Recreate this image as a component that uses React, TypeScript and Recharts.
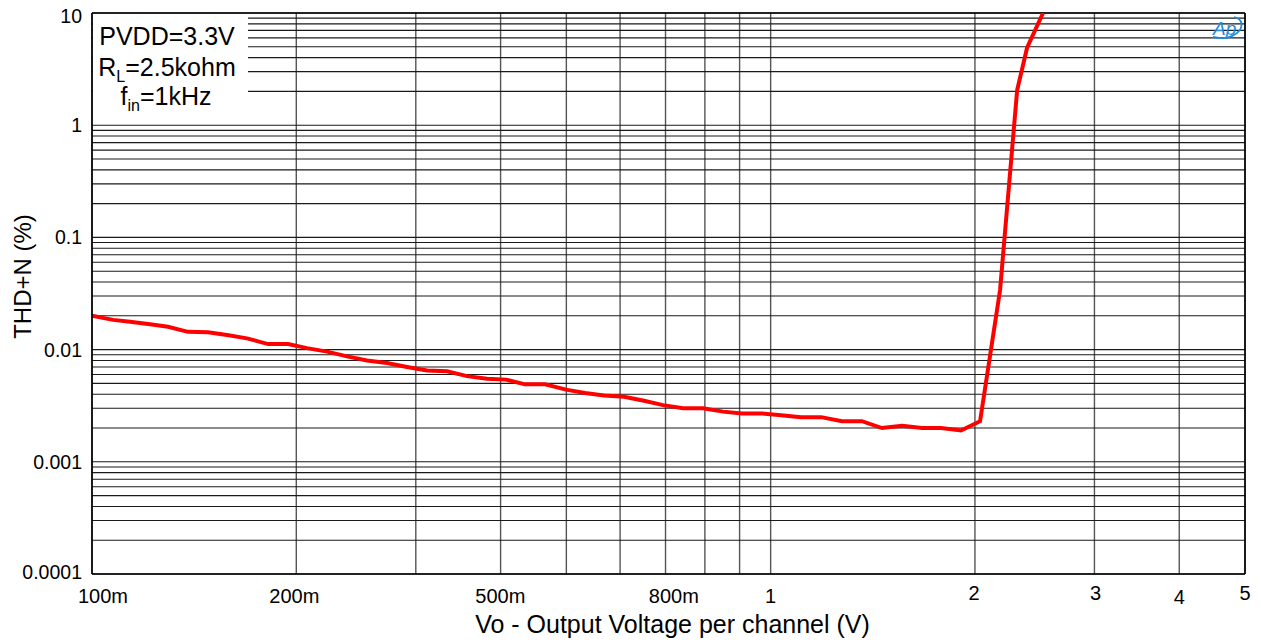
import React from 'react';
import { LineChart, Line, XAxis, YAxis, CartesianGrid, ReferenceLine } from 'recharts';

// sweep points (V, %)
const voltage = [
  0.1, 0.1074, 0.1138, 0.1218, 0.1294, 0.1385, 0.1482, 0.1581, 0.1692, 0.1817,
  0.1945, 0.2074, 0.222, 0.2376, 0.2542, 0.2721, 0.2912, 0.3117, 0.3336, 0.3569,
  0.382, 0.4074, 0.4346, 0.4652, 0.4994, 0.5328, 0.5682, 0.6081, 0.6508, 0.6941,
  0.7429, 0.795, 0.8507, 0.9075, 0.9712, 1.036, 1.109, 1.187, 1.274, 1.363,
  1.459, 1.562, 1.671, 1.783, 1.908, 2.035, 2.178, 2.308, 2.387, 2.52,
];
const thdn = [
  0.02, 0.0184, 0.0177, 0.0168, 0.016, 0.0144, 0.0143, 0.0135, 0.0126, 0.0112,
  0.0112, 0.0103, 0.0096, 0.0087, 0.008, 0.0076, 0.007, 0.0065, 0.0064, 0.0058,
  0.0055, 0.0054, 0.0049, 0.0049, 0.0044, 0.0041, 0.0039, 0.0038, 0.0035, 0.0032,
  0.003, 0.003, 0.0028, 0.0027, 0.0027, 0.0026, 0.0025, 0.0025, 0.0023, 0.0023,
  0.002, 0.0021, 0.002, 0.002, 0.0019, 0.0023, 0.034, 2.06, 4.9, 10,
];

const xGridTicks = [0.1, 0.2, 0.3, 0.4, 0.5, 0.6, 0.7, 0.8, 0.9, 1, 2, 3, 4, 5];
const xLabelValues = [0.1, 0.2, 0.5, 0.8, 1, 2, 3, 4, 5];
const xLabels = ['100m', '200m', '500m', '800m', '1', '2', '3', '4', '5'];

const yGridTicks = [
  0.0001, 0.0002, 0.0003, 0.0004, 0.0005, 0.0006, 0.0007, 0.0008, 0.0009,
  0.001, 0.002, 0.003, 0.004, 0.005, 0.006, 0.007, 0.008, 0.009,
  0.01, 0.02, 0.03, 0.04, 0.05, 0.06, 0.07, 0.08, 0.09,
  0.1, 0.2, 0.3, 0.4, 0.5, 0.6, 0.7, 0.8, 0.9,
  1, 2, 3, 4, 5, 6, 7, 8, 9, 10,
];
const yLabelValues = [0.0001, 0.001, 0.01, 0.1, 1, 10];
const yLabels = ['0.0001', '0.001', '0.01', '0.1', '1', '10'];

const data = voltage.map((v, i) => ({ v, thdn: thdn[i] }));

const FONT = '"Liberation Sans", Arial, sans-serif';

// the source plot has its x labels nudged off the gridlines; keep that look
const xLabelDx = [11, -2, -66, -31, 0, -1, 1, 0, 0];
const xLabelDy = [0, 0, 0, 0, 0, -3, -3, 1, -3];

const findIdx = (list: number[], val: number) =>
  list.findIndex((t) => Math.abs(t - val) / t < 1e-6);

const XTick = (props: any) => {
  const { x, y, payload } = props;
  const i = findIdx(xLabelValues, payload.value);
  if (i < 0) return null;
  return (
    <text x={x + xLabelDx[i]} y={y + 29 + xLabelDy[i]} textAnchor="middle"
      fontSize={20} fontFamily={FONT} fill="#000">
      {xLabels[i]}
    </text>
  );
};

const YTick = (props: any) => {
  const { x, y, payload } = props;
  const i = findIdx(yLabelValues, payload.value);
  if (i < 0) return null;
  const extra = i === yLabels.length - 1 ? 4 : i === 0 ? -1 : 1;
  return (
    <text x={x - 10} y={y + 6 + extra} textAnchor="end"
      fontSize={19.5} fontFamily={FONT} fill="#000">
      {yLabels[i]}
    </text>
  );
};

const App: React.FC = () => {
  return (
    <div style={{ position: 'absolute', left: 0, top: 0, width: 1261, height: 644, background: '#fff' }}>
      <LineChart width={1261} height={644} data={data}
        margin={{ top: 13, right: 16, bottom: 0, left: 0 }}>
        <CartesianGrid horizontal={false} stroke="#555" strokeWidth={1.4} />
        <CartesianGrid vertical={false} stroke="#1a1a1a" strokeWidth={1.1} />
        <XAxis dataKey="v" type="number" scale="log" domain={[0.1, 5]} allowDataOverflow
          ticks={xGridTicks} interval={0} height={70} tickSize={0} tickMargin={0}
          axisLine={{ stroke: '#000', strokeWidth: 1.6 }} tickLine={false} tick={<XTick />}
          label={{
            content: (p: any) => (
              <text x={p.viewBox.x + p.viewBox.width / 2 + 4} y={p.viewBox.y + 59}
                textAnchor="middle" fontSize={25} fontFamily={FONT} fill="#000">
                Vo - Output Voltage per channel (V)
              </text>
            ),
          }} />
        <YAxis type="number" scale="log" domain={[0.0001, 10]} allowDataOverflow
          ticks={yGridTicks} interval={0} width={92} tickSize={0} tickMargin={0}
          axisLine={{ stroke: '#000', strokeWidth: 1.6 }} tickLine={false} tick={<YTick />}
          label={{
            content: (p: any) => {
              const cx = 22;
              const cy = p.viewBox.y + p.viewBox.height / 2 - 17;
              return (
                <text x={cx} y={cy} transform={`rotate(-90 ${cx} ${cy})`} textAnchor="middle"
                  dominantBaseline="central" fontSize={24} fontFamily={FONT} fill="#000">
                  THD+N (%)
                </text>
              );
            },
          }} />
        <ReferenceLine y={10} stroke="#000" strokeWidth={1.6} />
        <ReferenceLine x={5} stroke="#000" strokeWidth={1.6} />
        <Line type="linear" dataKey="thdn" stroke="#ff0000" strokeWidth={4}
          dot={false} isAnimationActive={false} />
      </LineChart>
      <svg width={1261} height={644} style={{ position: 'absolute', left: 0, top: 0, pointerEvents: 'none' }}>
        <rect x={93} y={14} width={155} height={109} fill="#fff" />
        <g fontFamily={FONT} fontSize={25} fill="#000" textAnchor="middle">
          <text x={167} y={45}>PVDD=3.3V</text>
          <text x={167} y={76}>
            R<tspan fontSize={16} dy={6}>L</tspan><tspan dy={-6}>=2.5kohm</tspan>
          </text>
          <text x={166} y={105}>
            f<tspan fontSize={16} dy={6}>in</tspan><tspan dy={-6}>=1kHz</tspan>
          </text>
        </g>
        <g fill="none" stroke="#1f8ad8" strokeWidth={1.8}>
          <path d="M1213 37 Q1231 41 1240 30 Q1245 20 1234 17" />
        </g>
        <text x={1213} y={35} fontFamily={FONT} fontSize={19} fontStyle="italic" fill="#1f8ad8">Ap</text>
      </svg>
    </div>
  );
};

export default App;
